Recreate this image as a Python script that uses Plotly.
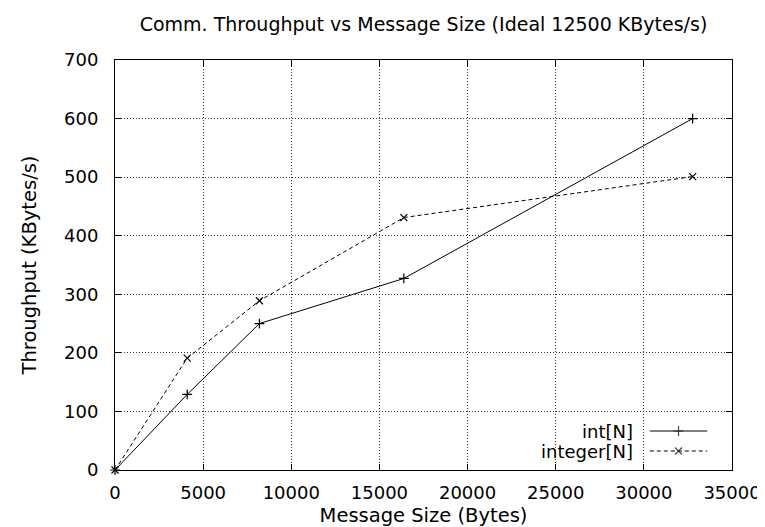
import plotly.graph_objects as go

# Data
msg_size = [0, 4096, 8192, 16384, 32768]
int_n = [0, 129, 250, 327, 600]
integer_n = [0, 191, 289, 431, 501]
x_ticks = [0, 5000, 10000, 15000, 20000, 25000, 30000, 35000]
y_ticks = [0, 100, 200, 300, 400, 500, 600, 700]
series_names = ["int[N]", "integer[N]"]

FONT = "DejaVu Sans, Liberation Sans, Arial, sans-serif"
W, H = 765, 527
L, R, T, B = 107, 35, 52, 65
PW, PH = W - L - R, H - T - B

fig = go.Figure()

fig.add_trace(go.Scatter(
    x=msg_size, y=int_n, mode="lines+markers", name=series_names[0],
    line=dict(color="black", width=1),
    marker=dict(symbol="cross-thin", size=7, line=dict(color="black", width=1.2)),
    showlegend=False, cliponaxis=False))
fig.add_trace(go.Scatter(
    x=msg_size, y=integer_n, mode="lines+markers", name=series_names[1],
    line=dict(color="black", width=1, dash="4px,3px"),
    marker=dict(symbol="x-thin", size=7, line=dict(color="black", width=1.2)),
    showlegend=False, cliponaxis=False))

# Manual gnuplot-style legend (text right, sample left-to-right)
def px_x(p):
    return (p - L) / PW

def px_y(p):
    return (H - B - p) / PH

leg_text_right = 632
leg_line_x0, leg_line_x1 = 647, 705
leg_rows = [423, 443]
dashes = ["solid", "4px,3px"]
symbols = ["cross-thin", "x-thin"]
sizes = [7, 7]
for name, yy, dsh, sym, sz in zip(series_names, leg_rows, dashes, symbols, sizes):
    fig.add_annotation(x=px_x(leg_text_right), y=px_y(yy), xref="paper", yref="paper",
                       text=name, showarrow=False, xanchor="right", yanchor="middle",
                       font=dict(family=FONT, size=18, color="black"))
    xs = [px_x(leg_line_x0), px_x((leg_line_x0 + leg_line_x1) / 2), px_x(leg_line_x1)]
    fig.add_trace(go.Scatter(
        x=xs, y=[px_y(yy)] * 3, xaxis="x2", yaxis="y2", mode="lines+markers",
        line=dict(color="black", width=1, dash=dsh),
        marker=dict(symbol=sym, size=[0, sz, 0], line=dict(color="black", width=1.2)),
        showlegend=False, hoverinfo="skip"))

axis_common = dict(
    showline=True, linecolor="black", linewidth=1, mirror="ticks",
    ticks="inside", ticklen=6, tickcolor="black", tickwidth=1,
    showgrid=True, gridcolor="#333", gridwidth=1, griddash="1px,2px",
    zeroline=False, tickfont=dict(family=FONT, size=18, color="black"),
)

fig.update_layout(
    width=W, height=H,
    margin=dict(l=L, r=R, t=T, b=B),
    paper_bgcolor="white", plot_bgcolor="white",
    title=dict(text="Comm. Throughput vs Message Size (Ideal 12500 KBytes/s)",
               x=0.5, xref="paper", y=1 - 16 / H, yref="container",
               xanchor="center", yanchor="middle",
               font=dict(family=FONT, size=19, color="black")),
    xaxis=dict(range=[0, 35000], tickvals=x_ticks, ticktext=[str(v) for v in x_ticks],
               title=dict(text="Message Size (Bytes)", standoff=6,
                          font=dict(family=FONT, size=19.5, color="black")),
               ticklabelstandoff=6, **axis_common),
    yaxis=dict(range=[0, 700], tickvals=y_ticks, ticktext=[str(v) for v in y_ticks],
               title=dict(text="Throughput (KBytes/s)", standoff=22,
                          font=dict(family=FONT, size=19.5, color="black")),
               ticklabelstandoff=12, **axis_common),
    xaxis2=dict(range=[0, 1], overlaying="x", visible=False, fixedrange=True),
    yaxis2=dict(range=[0, 1], overlaying="y", visible=False, fixedrange=True),
    showlegend=False,
)

fig.write_html("out.html")
